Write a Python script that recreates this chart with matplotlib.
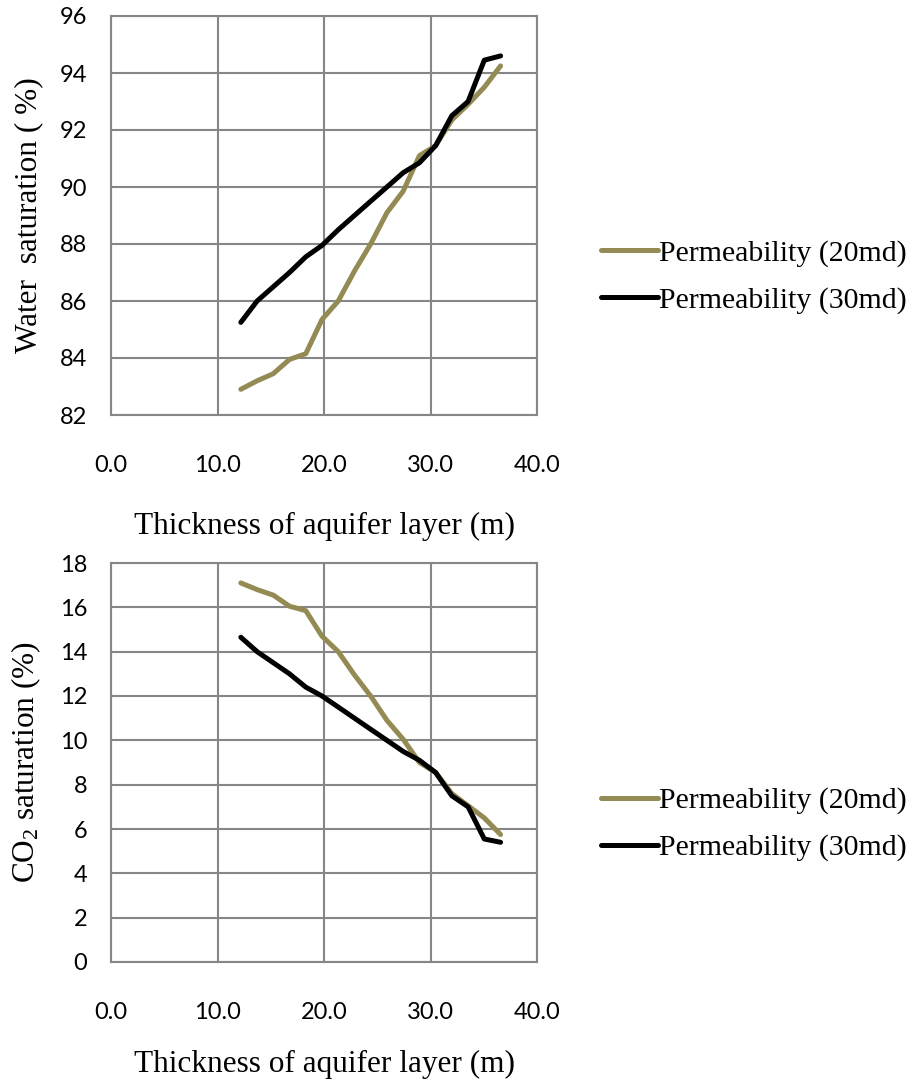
import matplotlib
matplotlib.use("Agg")
import matplotlib.pyplot as plt

# ---- data ----
thickness = [12.19, 13.72, 15.24, 16.76, 18.29, 19.81, 21.34, 22.86, 24.38,
             25.91, 27.43, 28.96, 30.48, 32.00, 33.53, 35.05, 36.58]

water_20md = [82.9, 83.2, 83.45, 83.95, 84.15, 85.35, 86.0, 87.05, 88.0,
              89.1, 89.85, 91.1, 91.45, 92.35, 92.9, 93.5, 94.25]
water_30md = [85.25, 86.0, 86.5, 87.0, 87.55, 87.95, 88.5, 89.0, 89.5,
              90.0, 90.5, 90.85, 91.45, 92.5, 93.0, 94.45, 94.6]

co2_20md = [17.1, 16.8, 16.55, 16.05, 15.85, 14.7, 14.0, 12.95, 12.0,
            10.9, 10.05, 9.0, 8.55, 7.6, 7.05, 6.5, 5.75]
co2_30md = [14.65, 14.0, 13.5, 13.0, 12.4, 12.0, 11.5, 11.0, 10.5,
            10.0, 9.5, 9.1, 8.55, 7.5, 7.0, 5.55, 5.4]

x_ticks = [0, 10, 20, 30, 40]
x_tick_labels = ["0.0", "10.0", "20.0", "30.0", "40.0"]
water_ticks = [82, 84, 86, 88, 90, 92, 94, 96]
co2_ticks = [0, 2, 4, 6, 8, 10, 12, 14, 16, 18]

series_labels = ["Permeability (20md)", "Permeability (30md)"]
x_label = "Thickness of aquifer layer (m)"
water_label = "Water  saturation ( %)"
co2_label = "CO$_2$ saturation (%)"

# ---- style ----
plt.rcParams["mathtext.fontset"] = "custom"
plt.rcParams["mathtext.rm"] = "Liberation Serif"
plt.rcParams["mathtext.it"] = "Liberation Serif:italic"

GREEN = "#948A54"
BLACK = "#000000"
GRID = "#868686"
SERIF = "Liberation Serif"
SANS = "Lato"

fig = plt.figure(figsize=(9.13, 10.79), dpi=100)

W = 913.0
H = 1079.0
ax_left = 111 / W
ax_width = (537 - 111) / W
ax_height = 399 / H

ax1 = fig.add_axes([ax_left, 1 - 415 / H, ax_width, ax_height])
ax2 = fig.add_axes([ax_left, 1 - 962 / H, ax_width, ax_height])


def style(ax, yticks, ylabel, legend_y, xpad):
    ax.set_xlim(0, 40)
    ax.set_ylim(yticks[0], yticks[-1])
    ax.set_xticks(x_ticks)
    ax.set_xticklabels(x_tick_labels)
    ax.set_yticks(yticks)
    ax.set_yticklabels([str(t) for t in yticks])
    ax.grid(True, color=GRID, linewidth=1.5)
    ax.set_axisbelow(True)
    for sp in ax.spines.values():
        sp.set_color(GRID)
        sp.set_linewidth(1.5)
    ax.tick_params(axis="both", length=0, labelsize=17, colors="black")
    ax.tick_params(axis="y", pad=17)
    ax.tick_params(axis="x", pad=29)
    for lab in ax.get_xticklabels() + ax.get_yticklabels():
        lab.set_family(SANS)
    ax.set_xlabel(x_label, fontsize=22.5, family=SERIF, labelpad=xpad)
    ax.set_ylabel(ylabel, fontsize=22.5, family=SERIF)
    ax.yaxis.set_label_coords(-0.16, 0.5)
    leg = ax.legend(loc="center left", bbox_to_anchor=(1.15, legend_y),
                    frameon=False, prop={"family": SERIF, "size": 21.5},
                    handlelength=1.9, handletextpad=0.05, labelspacing=0.66,
                    borderaxespad=0, borderpad=0)
    return leg


LW = 3.6
ax1.plot(thickness, water_20md, color=GREEN, linewidth=LW,
         solid_joinstyle="round", solid_capstyle="round", label=series_labels[0])
ax1.plot(thickness, water_30md, color=BLACK, linewidth=LW,
         solid_joinstyle="round", solid_capstyle="round", label=series_labels[1])
style(ax1, water_ticks, water_label, 0.347, 26)

ax2.plot(thickness, co2_20md, color=GREEN, linewidth=LW,
         solid_joinstyle="round", solid_capstyle="round", label=series_labels[0])
ax2.plot(thickness, co2_30md, color=BLACK, linewidth=LW,
         solid_joinstyle="round", solid_capstyle="round", label=series_labels[1])
style(ax2, co2_ticks, co2_label, 0.345, 19)

fig.savefig("out.png", dpi=100, facecolor="white")
